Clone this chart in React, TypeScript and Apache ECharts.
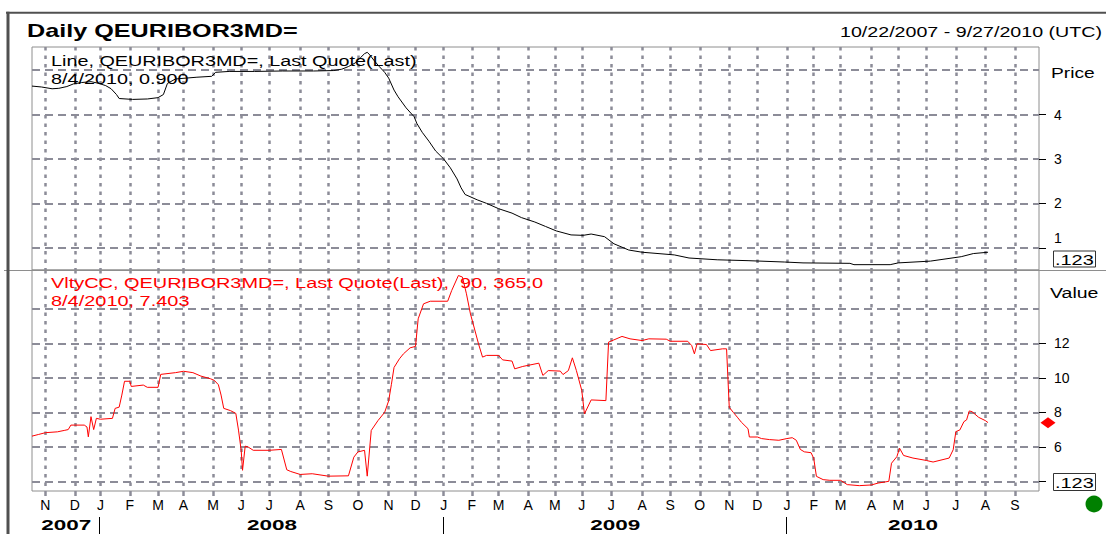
import React, { useEffect, useRef } from 'react';
import * as echarts from 'echarts';

// ---------- axis domain ----------
const START_DAY = '2007-10-18';
const END_DAY = '2010-09-27';
const HOLIDAYS = [
  '2007-12-25', '2007-12-26', '2008-01-01', '2008-03-21', '2008-03-24', '2008-05-01',
  '2008-12-25', '2008-12-26', '2009-01-01', '2009-04-10', '2009-04-13', '2009-05-01',
  '2009-12-25', '2010-01-01', '2010-04-02', '2010-04-05',
];
const MONTH_LETTERS = ['J', 'F', 'M', 'A', 'M', 'J', 'J', 'A', 'S', 'O', 'N', 'D'];
const YEARS = ['2007', '2008', '2009', '2010'];

// ---------- y ticks ----------
const PRICE_RANGE = [0.5, 5.52];
const PRICE_GRID_VALUES = [1, 2, 3, 4, 5];
const PRICE_TICK_VALUES = [1, 2, 3, 4];
const VOL_RANGE = [3.44, 16.25];
const VOL_GRID_VALUES = [4, 6, 8, 10, 12, 14];
const VOL_TICK_VALUES = [4, 6, 8, 10, 12];
const VOL_LABEL_VALUES = [6, 8, 10, 12];

// ---------- series ----------
const PRICE: [string, number][] = [
  ['2007-10-18', 4.64], ['2007-10-29', 4.62], ['2007-11-08', 4.58], ['2007-11-15', 4.59],
  ['2007-11-23', 4.63], ['2007-11-30', 4.69], ['2007-12-10', 4.72], ['2007-12-19', 4.74],
  ['2007-12-31', 4.70], ['2008-01-08', 4.65], ['2008-01-14', 4.58], ['2008-01-18', 4.45],
  ['2008-01-22', 4.36], ['2008-02-05', 4.34], ['2008-02-20', 4.35], ['2008-03-03', 4.38],
  ['2008-03-07', 4.45], ['2008-03-12', 4.70], ['2008-03-20', 4.80], ['2008-04-15', 4.84],
  ['2008-04-30', 4.86], ['2008-05-06', 4.95], ['2008-05-20', 4.97], ['2008-06-16', 4.97],
  ['2008-07-15', 4.98], ['2008-08-15', 4.98], ['2008-09-05', 4.99], ['2008-09-15', 5.02],
  ['2008-09-22', 5.08], ['2008-09-29', 5.16], ['2008-10-03', 5.28], ['2008-10-08', 5.37],
  ['2008-10-10', 5.40], ['2008-10-14', 5.34], ['2008-10-17', 5.22], ['2008-10-23', 5.08],
  ['2008-10-29', 4.95], ['2008-11-03', 4.82], ['2008-11-07', 4.55], ['2008-11-12', 4.40],
  ['2008-11-20', 4.15], ['2008-11-28', 3.95], ['2008-12-02', 3.80], ['2008-12-08', 3.60],
  ['2008-12-15', 3.40], ['2008-12-22', 3.18], ['2009-01-02', 3.00], ['2009-01-09', 2.80],
  ['2009-01-16', 2.55], ['2009-01-21', 2.35], ['2009-01-26', 2.20], ['2009-02-06', 2.08],
  ['2009-02-17', 2.00], ['2009-03-02', 1.88], ['2009-03-16', 1.78], ['2009-03-25', 1.68],
  ['2009-04-08', 1.58], ['2009-04-22', 1.48], ['2009-05-05', 1.38], ['2009-05-20', 1.29],
  ['2009-06-02', 1.28], ['2009-06-10', 1.31], ['2009-06-24', 1.25], ['2009-07-03', 1.09],
  ['2009-07-20', 0.95], ['2009-08-03', 0.90], ['2009-09-04', 0.84], ['2009-09-21', 0.77],
  ['2009-10-20', 0.73], ['2009-11-20', 0.71], ['2009-12-30', 0.68], ['2010-01-20', 0.66],
  ['2010-03-10', 0.65], ['2010-03-15', 0.62], ['2010-04-23', 0.62], ['2010-05-03', 0.66],
  ['2010-06-04', 0.70], ['2010-07-07', 0.80], ['2010-07-20', 0.87], ['2010-08-04', 0.90],
];

const VOL: [string, number][] = [
  ['2007-10-18', 6.62], ['2007-10-25', 6.72], ['2007-11-01', 6.82], ['2007-11-14', 6.87],
  ['2007-11-21', 6.95], ['2007-11-26', 7.0], ['2007-11-28', 7.26], ['2007-12-12', 7.26],
  ['2007-12-14', 7.15], ['2007-12-17', 6.58], ['2007-12-19', 7.75], ['2007-12-21', 7.0],
  ['2007-12-27', 7.65], ['2008-01-02', 7.6], ['2008-01-15', 7.65], ['2008-01-17', 8.23],
  ['2008-01-22', 8.3], ['2008-01-24', 9.0], ['2008-01-28', 9.8], ['2008-02-01', 9.8],
  ['2008-02-04', 9.5], ['2008-02-15', 9.58], ['2008-02-20', 9.45], ['2008-03-03', 9.45],
  ['2008-03-05', 10.2], ['2008-03-20', 10.3], ['2008-04-01', 10.38], ['2008-04-10', 10.3],
  ['2008-04-18', 10.1], ['2008-04-29', 9.95], ['2008-05-05', 9.85], ['2008-05-08', 9.6],
  ['2008-05-12', 9.0], ['2008-05-14', 8.23], ['2008-05-21', 8.1], ['2008-05-27', 7.94],
  ['2008-05-29', 6.97], ['2008-06-02', 5.8], ['2008-06-03', 4.64], ['2008-06-05', 6.04],
  ['2008-06-09', 6.0], ['2008-06-13', 5.8], ['2008-07-01', 5.8], ['2008-07-14', 5.85],
  ['2008-07-18', 4.67], ['2008-07-23', 4.57], ['2008-08-01', 4.4], ['2008-08-14', 4.44],
  ['2008-09-01', 4.3], ['2008-09-22', 4.32], ['2008-09-26', 5.4], ['2008-10-01', 5.7],
  ['2008-10-08', 5.8], ['2008-10-10', 4.3], ['2008-10-15', 6.95], ['2008-10-22', 7.52],
  ['2008-10-29', 8.0], ['2008-11-03', 8.67], ['2008-11-05', 9.6], ['2008-11-07', 10.6],
  ['2008-11-13', 11.1], ['2008-11-18', 11.39], ['2008-11-25', 11.74], ['2008-12-01', 11.82],
  ['2008-12-03', 13.42], ['2008-12-09', 14.29], ['2008-12-16', 14.44], ['2009-01-07', 14.44],
  ['2009-01-12', 15.06], ['2009-01-19', 15.93], ['2009-01-22', 15.84], ['2009-01-27', 14.87],
  ['2009-01-30', 13.7], ['2009-02-03', 13.13], ['2009-02-09', 11.97], ['2009-02-12', 11.2],
  ['2009-02-17', 11.3], ['2009-03-02', 11.3], ['2009-03-05', 11.04], ['2009-03-16', 10.97],
  ['2009-03-18', 10.52], ['2009-03-26', 10.66], ['2009-04-15', 10.85], ['2009-04-20', 10.14],
  ['2009-04-24', 10.42], ['2009-05-08', 10.39], ['2009-05-12', 10.19], ['2009-05-18', 10.42],
  ['2009-05-21', 11.16], ['2009-05-26', 10.42], ['2009-06-01', 9.27], ['2009-06-03', 7.91],
  ['2009-06-10', 8.72], ['2009-06-25', 8.68], ['2009-06-29', 12.07], ['2009-07-03', 12.2],
  ['2009-07-13', 12.4], ['2009-07-21', 12.26], ['2009-08-03', 12.16], ['2009-08-10', 12.26],
  ['2009-08-27', 12.24], ['2009-09-01', 12.12], ['2009-09-18', 12.12], ['2009-09-23', 11.87],
  ['2009-09-25', 11.39], ['2009-09-29', 11.97], ['2009-10-08', 11.93], ['2009-10-13', 11.58],
  ['2009-10-26', 11.68], ['2009-10-29', 11.68], ['2009-11-02', 8.29], ['2009-11-05', 8.0],
  ['2009-11-10', 7.72], ['2009-11-13', 7.43], ['2009-11-20', 7.05], ['2009-11-23', 6.57],
  ['2009-12-01', 6.57], ['2009-12-04', 6.48], ['2009-12-14', 6.42], ['2009-12-23', 6.38],
  ['2010-01-04', 6.48], ['2010-01-08', 6.53], ['2010-01-13', 6.38], ['2010-01-18', 5.85],
  ['2010-01-21', 5.71], ['2010-01-28', 5.66], ['2010-02-01', 5.33], ['2010-02-03', 4.29],
  ['2010-02-10', 4.1], ['2010-02-17', 4.06], ['2010-03-01', 4.06], ['2010-03-08', 3.81],
  ['2010-03-19', 3.75], ['2010-04-01', 3.79], ['2010-04-12', 3.9], ['2010-04-22', 4.0],
  ['2010-04-26', 5.05], ['2010-04-30', 5.43], ['2010-05-04', 5.92], ['2010-05-07', 5.5],
  ['2010-05-18', 5.35], ['2010-06-01', 5.21], ['2010-06-08', 5.12], ['2010-06-24', 5.35],
  ['2010-06-29', 5.83], ['2010-07-01', 6.88], ['2010-07-06', 6.98], ['2010-07-09', 7.46],
  ['2010-07-13', 7.56], ['2010-07-15', 8.08], ['2010-07-19', 8.04], ['2010-07-26', 7.71],
  ['2010-08-02', 7.52], ['2010-08-04', 7.403],
];

// ---------- helpers ----------
function buildDays(): string[] {
  const out: string[] = [];
  const d = new Date(START_DAY + 'T00:00:00Z');
  const end = new Date(END_DAY + 'T00:00:00Z');
  while (d.getTime() <= end.getTime()) {
    const wd = d.getUTCDay();
    const s = d.toISOString().slice(0, 10);
    if (wd !== 0 && wd !== 6 && HOLIDAYS.indexOf(s) < 0) out.push(s);
    d.setUTCDate(d.getUTCDate() + 1);
  }
  return out;
}
const DAYS = buildDays();
function dayIndex(s: string): number {
  for (let i = 0; i < DAYS.length; i++) if (DAYS[i] >= s) return i;
  return DAYS.length - 1;
}
const isMonthStart = (i: number) => i > 0 && DAYS[i].slice(0, 7) !== DAYS[i - 1].slice(0, 7);
const usDate = (s: string) => `${+s.slice(5, 7)}/${+s.slice(8, 10)}/${s.slice(0, 4)}`;

const GRID_COLOR = '#8c8c98';
const BORDER_COLOR = '#8e8e8e';
const FONT = '"Liberation Sans", Arial, sans-serif';

function txt(text: string, x: number, y: number, font: string, fill: string, scaleX: number, align = 'left') {
  return {
    type: 'text', x, y, scaleX, z: 100, silent: true,
    style: { text, x: 0, y: 0, font, fill, align, verticalAlign: 'middle', textAlign: align, textVerticalAlign: 'middle' },
  };
}

export default function App() {
  const ref = useRef<HTMLDivElement>(null);
  useEffect(() => {
    if (!ref.current) return;
    const chart = echarts.init(ref.current, undefined, { renderer: 'svg' });

    const vSplit = {
      show: true,
      interval: (i: number) => isMonthStart(i),
      lineStyle: { color: GRID_COLOR, width: 2.5, type: [3.5, 5] },
    };
    const hSplit = { show: true, lineStyle: { color: GRID_COLOR, width: 2, type: [8, 5] } };
    const labelStyle = { color: '#000', fontSize: 14, fontFamily: FONT };

    const lastPrice = PRICE[PRICE.length - 1];
    const lastVol = VOL[VOL.length - 1];

    chart.setOption({
      animation: false,
      backgroundColor: '#fff',
      grid: [
        { left: 32, top: 47, width: 1007, height: 223, show: true, borderColor: BORDER_COLOR, borderWidth: 1, backgroundColor: '#fff' },
        { left: 32, top: 270, width: 1007, height: 221, show: true, borderColor: BORDER_COLOR, borderWidth: 1, backgroundColor: '#fff' },
      ],
      xAxis: [
        {
          type: 'category', gridIndex: 0, data: DAYS, boundaryGap: false,
          axisLine: { show: false }, axisTick: { show: false }, axisLabel: { show: false },
          splitLine: vSplit,
        },
        {
          type: 'category', gridIndex: 1, data: DAYS, boundaryGap: false,
          axisLine: { show: false },
          axisTick: { show: true, interval: (i: number) => isMonthStart(i), length: 5, lineStyle: { color: GRID_COLOR, width: 2.5 } },
          axisLabel: {
            show: true, interval: (i: number) => isMonthStart(i), margin: 7,
            formatter: (v: string) => MONTH_LETTERS[+v.slice(5, 7) - 1],
            ...labelStyle,
          },
          splitLine: vSplit,
        },
      ],
      yAxis: [
        {
          type: 'value', gridIndex: 0, position: 'right', min: PRICE_RANGE[0], max: PRICE_RANGE[1], splitNumber: 5,
          axisLine: { show: false }, axisTick: { show: false, customValues: PRICE_GRID_VALUES },
          axisLabel: { show: false }, splitLine: hSplit,
        },
        {
          type: 'value', gridIndex: 0, position: 'right', min: PRICE_RANGE[0], max: PRICE_RANGE[1], splitNumber: 5,
          axisLine: { show: false },
          axisTick: { show: true, customValues: PRICE_TICK_VALUES, length: 7, lineStyle: { color: '#000', width: 1 } },
          axisLabel: {
            show: true, customValues: PRICE_TICK_VALUES, margin: 15,
            formatter: (v: number) => (v === 1 ? `{up|${v}}` : `${v}`),
            rich: { up: { padding: [0, 0, 19, 0], fontSize: 14, fontFamily: FONT, color: '#000' } },
            ...labelStyle,
          },
          splitLine: { show: false },
        },
        {
          type: 'value', gridIndex: 1, position: 'right', min: VOL_RANGE[0], max: VOL_RANGE[1], splitNumber: 6,
          axisLine: { show: false }, axisTick: { show: false, customValues: VOL_GRID_VALUES },
          axisLabel: { show: false }, splitLine: hSplit,
        },
        {
          type: 'value', gridIndex: 1, position: 'right', min: VOL_RANGE[0], max: VOL_RANGE[1], splitNumber: 6,
          axisLine: { show: false },
          axisTick: { show: true, customValues: VOL_TICK_VALUES, length: 7, lineStyle: { color: '#000', width: 1 } },
          axisLabel: { show: true, customValues: VOL_LABEL_VALUES, margin: 15, ...labelStyle },
          splitLine: { show: false },
        },
      ],
      series: [
        {
          type: 'line', name: 'Price', xAxisIndex: 0, yAxisIndex: 1,
          data: PRICE.map(([d, v]) => [dayIndex(d), v]),
          symbol: 'none', showSymbol: false, lineStyle: { color: '#000', width: 1 }, z: 5,
        },
        {
          type: 'line', name: 'VltyCC', xAxisIndex: 1, yAxisIndex: 3,
          data: VOL.map(([d, v]) => [dayIndex(d), v]),
          symbol: 'none', showSymbol: false, lineStyle: { color: '#ff0000', width: 1 }, z: 5,
        },
      ],
    });

    // decorations positioned through the chart's own scales
    const px = (i: number) => chart.convertToPixel({ xAxisIndex: 1 }, i) as number;
    const bounds = [0, dayIndex('2008-01-01'), dayIndex('2009-01-01'), dayIndex('2010-01-01'), DAYS.length - 1].map(px);
    const rightEdge = bounds[4];
    const diamondY = chart.convertToPixel({ yAxisIndex: 3 }, lastVol[1]) as number;
    const dx = rightEdge + 9;

    const graphic: any[] = [
      // frame
      { type: 'line', z: 100, silent: true, shape: { x1: 6, y1: 12.7, x2: 1110, y2: 12.7 }, style: { stroke: '#505050', lineWidth: 2 } },
      { type: 'line', z: 100, silent: true, shape: { x1: 8, y1: 11.7, x2: 8, y2: 540 }, style: { stroke: '#505050', lineWidth: 3 } },
      // panel divider
      { type: 'line', z: 90, silent: true, shape: { x1: 4, y1: 270.5, x2: 1110, y2: 270.5 }, style: { stroke: BORDER_COLOR, lineWidth: 1 } },
      // titles
      txt('Daily QEURIBOR3MD=', 27, 31, `bold 18px ${FONT}`, '#000', 1.4),
      txt('10/22/2007 - 9/27/2010 (UTC)', 840, 31.5, `15px ${FONT}`, '#000', 1.31),
      // legends
      txt('Line, QEURIBOR3MD=, Last Quote(Last)', 51, 61, `15px ${FONT}`, '#000', 1.32),
      txt(`${usDate(lastPrice[0])}, ${lastPrice[1].toFixed(3)}`, 51, 79, `15px ${FONT}`, '#000', 1.32),
      txt('VltyCC, QEURIBOR3MD=, Last Quote(Last),  90, 365.0', 51, 283, `15px ${FONT}`, '#ff0000', 1.33),
      txt(`${usDate(lastVol[0])}, ${lastVol[1].toFixed(3)}`, 51, 301, `15px ${FONT}`, '#ff0000', 1.33),
      // axis names
      txt('Price', rightEdge + 12, 73, `15px ${FONT}`, '#000', 1.28),
      txt('Value', rightEdge + 11, 293, `15px ${FONT}`, '#000', 1.3),
      // .123 boxes
      { type: 'rect', z: 100, silent: true, shape: { x: 1053.5, y: 251, width: 42, height: 16 }, style: { fill: '#fff', stroke: '#333', lineWidth: 1 } },
      txt('.123', 1055, 259.5, `15px ${FONT}`, '#000', 1.33),
      { type: 'rect', z: 100, silent: true, shape: { x: 1053.5, y: 473.5, width: 42, height: 17 }, style: { fill: '#fff', stroke: '#333', lineWidth: 1 } },
      txt('.123', 1055, 482.5, `15px ${FONT}`, '#000', 1.33),
      // last value marker
      {
        type: 'polygon', z: 100, silent: true,
        shape: { points: [[dx - 7.5, diamondY], [dx, diamondY - 5.5], [dx + 7.5, diamondY], [dx, diamondY + 5.5]] },
        style: { fill: '#ff0000' },
      },
      // status dot
      { type: 'circle', z: 100, silent: true, shape: { cx: 1094, cy: 504, r: 8.5 }, style: { fill: '#008000' } },
    ];
    // year row
    for (let k = 0; k < YEARS.length; k++) {
      const cx = (bounds[k] + bounds[k + 1]) / 2;
      graphic.push(txt(YEARS[k], cx, 524.5, `bold 15px ${FONT}`, '#000', 1.5, 'center'));
    }
    for (let k = 1; k <= 3; k++) {
      const x = Math.round(bounds[k]) - 0.5;
      graphic.push({ type: 'line', z: 100, silent: true, shape: { x1: x, y1: 517, x2: x, y2: 540 }, style: { stroke: '#000', lineWidth: 1 } });
    }
    chart.setOption({ graphic });

    return () => chart.dispose();
  }, []);

  return (
    <div style={{ position: 'fixed', left: 0, top: 0, width: 1106, height: 534, background: '#fff' }}>
      <div ref={ref} style={{ width: 1106, height: 534 }} />
    </div>
  );
}
